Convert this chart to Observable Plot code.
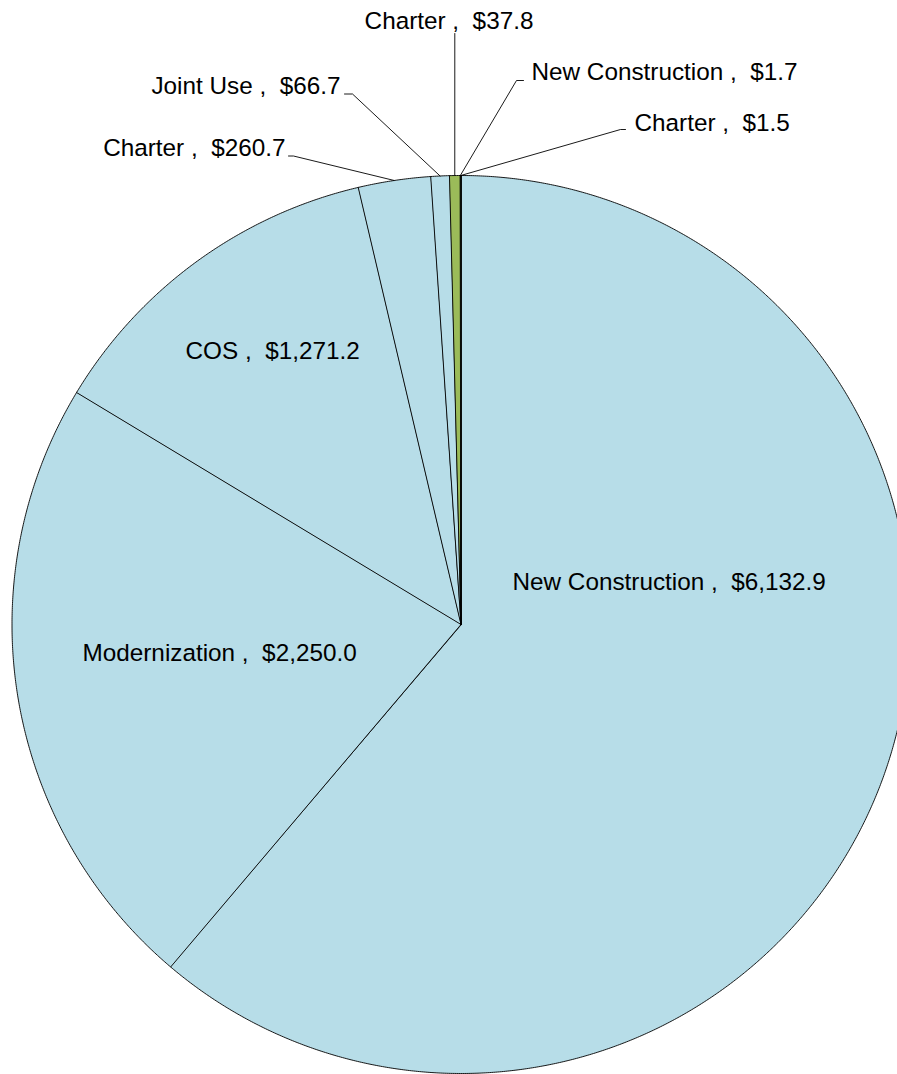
<!DOCTYPE html>
<html>
<head>
<meta charset="utf-8">
<script src="https://cdn.jsdelivr.net/npm/d3@7"></script>
<script src="https://cdn.jsdelivr.net/npm/@observablehq/plot@0.6"></script>
<style>
  html, body { margin: 0; padding: 0; background: #fff; }
  #chart svg { display: block; }
</style>
</head>
<body>
<div id="chart"></div>
<script>
// ---- data ----
const categories = ["New Construction", "Modernization", "COS", "Charter", "Joint Use", "Charter", "New Construction", "Charter"];
const values = [6132.9, 2250.0, 1271.2, 260.7, 66.7, 37.8, 1.7, 1.5];
const groups = ["A", "A", "A", "A", "A", "B", "B", "B"];

// ---- layout / style ----
const W = 897, H = 1074;
const cx = 460.5, cy = 624, R = 449;
const groupColor = {A: "#b7dde8", B: "#9bbb59"};
const fontSize = 24.3;
// label anchor in px (baseline), optional leader path points in px
const labelLayout = [
  {x: 512, y: 589, anchor: "start"},
  {x: 82, y: 660, anchor: "start"},
  {x: 185, y: 358, anchor: "start"},
  {x: 285, y: 155, anchor: "end", leader: [[293, 155.5], [288, 155.5]]},
  {x: 340, y: 93, anchor: "end", leader: [[352, 93.5], [344, 93.5]]},
  {x: 448.5, y: 28, anchor: "middle", leader: [[454.3, 33]]},
  {x: 531, y: 79.5, anchor: "start", leader: [[516, 80], [523, 80]]},
  {x: 634, y: 130, anchor: "start", leader: [[620, 129], [625, 129]]}
];

const toX = px => (px - cx) / R;
const toY = py => (cy - py) / R;
const fmt = d3.format(",.1f");

const arcs = d3.pie().sort(null).value(d => d)(values);

// slice polygons
const slicePts = [];
arcs.forEach((a, i) => {
  slicePts.push({id: i, x: 0, y: 0, color: groupColor[groups[i]]});
  const span = a.endAngle - a.startAngle;
  const n = Math.max(2, Math.ceil(span / (Math.PI / 720)));
  for (let k = 0; k <= n; k++) {
    const t = a.startAngle + span * k / n;
    slicePts.push({id: i, x: Math.sin(t), y: Math.cos(t), color: groupColor[groups[i]]});
  }
});

// labels
const labels = arcs.map((a, i) => ({
  text: categories[i] + " ,\u00a0 $" + fmt(values[i]),
  x: toX(labelLayout[i].x),
  y: toY(labelLayout[i].y),
  anchor: labelLayout[i].anchor
}));

// leader lines
const leaderPts = [];
arcs.forEach((a, i) => {
  const L = labelLayout[i].leader;
  if (!L) return;
  const m = (a.startAngle + a.endAngle) / 2;
  leaderPts.push({id: i, x: Math.sin(m), y: Math.cos(m)});
  L.forEach(p => leaderPts.push({id: i, x: toX(p[0]), y: toY(p[1])}));
});

const textMarks = ["start", "middle", "end"].map(anc =>
  Plot.text(labels.filter(d => d.anchor === anc), {
    x: "x", y: "y", text: "text",
    textAnchor: anc, lineAnchor: "bottom",
    fontSize: fontSize, fill: "#000"
  })
);

const chart = Plot.plot({
  width: W,
  height: H,
  margin: 0,
  style: {fontFamily: "'Liberation Sans', Arial, sans-serif", background: "#fff"},
  x: {axis: null, domain: [toX(0), toX(W)]},
  y: {axis: null, domain: [toY(H), toY(0)]},
  color: {type: "identity"},
  marks: [
    Plot.line(slicePts, {x: "x", y: "y", z: "id", fill: "color", stroke: "#000", strokeWidth: 0.9, curve: "linear-closed"}),
    Plot.line(leaderPts, {x: "x", y: "y", z: "id", stroke: "#000", strokeWidth: 0.9}),
    ...textMarks
  ]
});

document.getElementById("chart").appendChild(chart);
</script>
</body>
</html>
